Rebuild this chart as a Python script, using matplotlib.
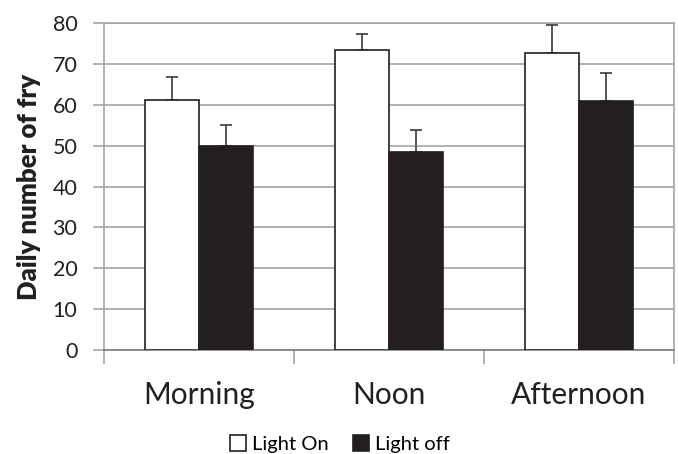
import matplotlib
matplotlib.use("Agg")
import matplotlib.pyplot as plt
import numpy as np

# data
periods = ["Morning", "Noon", "Afternoon"]
light_on = [61.1, 73.4, 72.7]
light_on_err = [5.8, 4.0, 6.8]
light_off = [49.9, 48.4, 60.9]
light_off_err = [5.1, 5.4, 6.9]

plt.rcParams['font.family'] = ['Lato', 'DejaVu Sans']

fig = plt.figure(figsize=(6.78, 4.54), dpi=100)
ax = fig.add_axes([0.153, 0.229, 0.841, 0.72])

x = np.arange(len(periods))
w = 0.284

ax.bar(x - w / 2, light_on, w, color="white", edgecolor="#231f20", linewidth=1.2,
       label="Light On", zorder=3)
ax.bar(x + w / 2, light_off, w, color="#231f20", edgecolor="#231f20", linewidth=1.2,
       label="Light off", zorder=3)

# upper error bars only
ax.errorbar(x - w / 2, light_on, yerr=[np.zeros(3), light_on_err], fmt="none",
            ecolor="#3a3a3a", elinewidth=1.2, capsize=4, capthick=1.2, zorder=2)
ax.errorbar(x + w / 2, light_off, yerr=[np.zeros(3), light_off_err], fmt="none",
            ecolor="#3a3a3a", elinewidth=1.2, capsize=4, capthick=1.2, zorder=2)

ax.set_xlim(-0.5, 2.5)
ax.set_ylim(0, 80)
ax.set_yticks(np.arange(0, 81, 10))
ax.yaxis.grid(True, color="#a6a6a6", linewidth=1.2, zorder=0)
ax.set_axisbelow(True)

# category separators as ticks
ax.set_xticks([-0.5, 0.5, 1.5, 2.5], minor=False)
ax.set_xticklabels([])
ax.set_xticks(x, minor=True)
ax.set_xticklabels(periods, minor=True, fontsize=21.5, color="#231f20")
ax.tick_params(axis="x", which="major", length=10, color="#a6a6a6", width=1.2)
ax.tick_params(axis="x", which="minor", length=0, pad=22)
ax.tick_params(axis="y", length=8, color="#a6a6a6", width=1.2, labelsize=15.5,
               labelcolor="#231f20", pad=11)

for s in ["top", "right", "left"]:
    ax.spines[s].set_color("#a6a6a6")
    ax.spines[s].set_linewidth(1.2)
ax.spines["bottom"].set_color("#7f7f7f")
ax.spines["bottom"].set_linewidth(1.2)

ax.set_ylabel("Daily number of fry", fontsize=18.5, fontweight="heavy", color="#231f20",
              labelpad=8)

ax.legend(loc="center", bbox_to_anchor=(0.414, -0.288), ncol=2, frameon=False,
          fontsize=14.5, handlelength=0.8, handleheight=0.8, handletextpad=0.3,
          columnspacing=1.2)

fig.savefig("out.png", dpi=100)
